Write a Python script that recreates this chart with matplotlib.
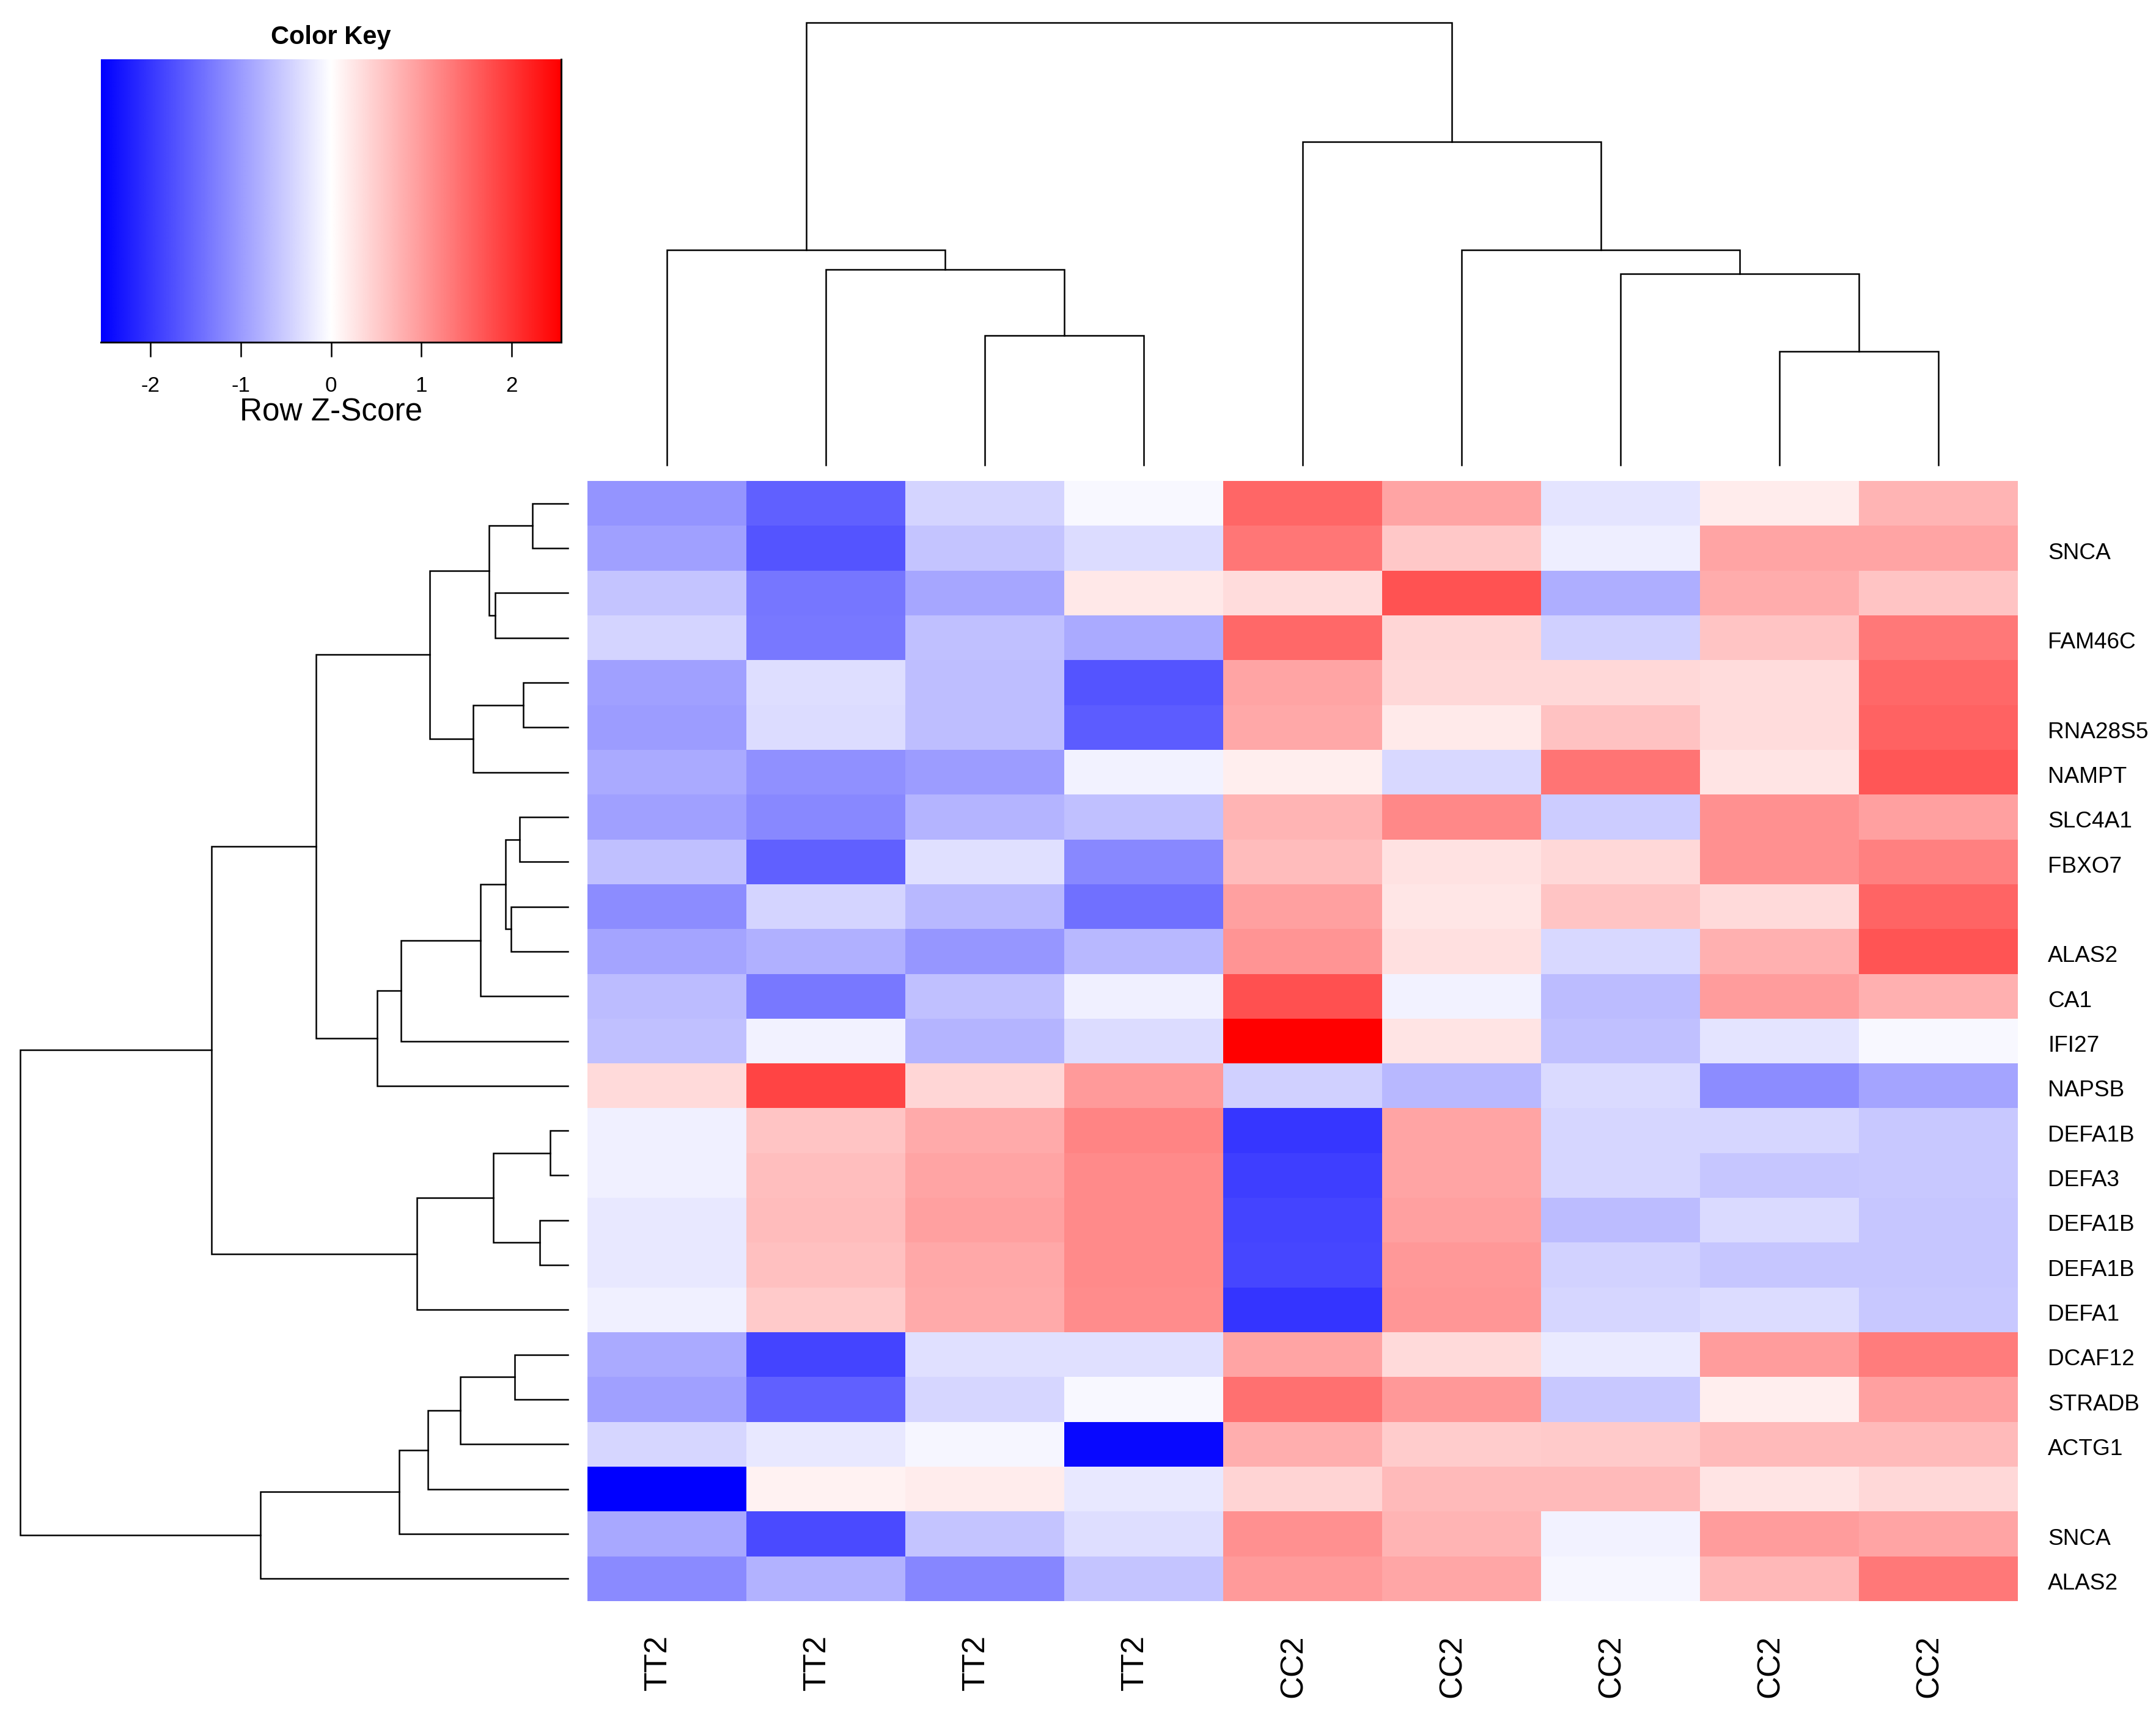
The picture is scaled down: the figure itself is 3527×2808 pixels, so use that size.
import numpy as np
import matplotlib
matplotlib.use("Agg")
import matplotlib.pyplot as plt
from matplotlib.colors import LinearSegmentedColormap

plt.rcParams["font.family"] = ["Liberation Sans", "DejaVu Sans"]
plt.rcParams["axes.unicode_minus"] = False


#%%
# 資料：row z-score（由上而下 25 列，9 個樣本）
col_labels = ["TT2", "TT2", "TT2", "TT2", "CC2", "CC2", "CC2", "CC2", "CC2"]

row_labels = ["", "SNCA", "", "FAM46C", "", "RNA28S5", "NAMPT", "SLC4A1",
              "FBXO7", "", "ALAS2", "CA1", "IFI27", "NAPSB", "DEFA1B",
              "DEFA3", "DEFA1B", "DEFA1B", "DEFA1", "DCAF12", "STRADB",
              "ACTG1", "", "SNCA", "ALAS2"]

z_scores = [
    [-1.07, -1.59, -0.43, -0.07, 1.53, 0.91, -0.27, 0.19, 0.75],
    [-0.95, -1.70, -0.59, -0.35, 1.36, 0.55, -0.17, 0.91, 0.91],
    [-0.59, -1.37, -0.89, 0.23, 0.35, 1.73, -0.81, 0.83, 0.59],
    [-0.43, -1.35, -0.63, -0.85, 1.51, 0.41, -0.47, 0.59, 1.35],
    [-0.95, -0.33, -0.65, -1.70, 0.91, 0.39, 0.39, 0.35, 1.51],
    [-0.99, -0.35, -0.65, -1.63, 0.87, 0.21, 0.61, 0.35, 1.57],
    [-0.85, -1.11, -0.99, -0.13, 0.17, -0.39, 1.39, 0.27, 1.69],
    [-0.95, -1.19, -0.75, -0.63, 0.75, 1.19, -0.51, 1.11, 0.95],
    [-0.63, -1.59, -0.31, -1.19, 0.67, 0.29, 0.39, 1.11, 1.27],
    [-1.15, -0.43, -0.71, -1.43, 0.95, 0.25, 0.59, 0.37, 1.55],
    [-0.91, -0.79, -1.05, -0.71, 1.07, 0.31, -0.39, 0.79, 1.70],
    [-0.67, -1.35, -0.63, -0.15, 1.75, -0.13, -0.67, 0.99, 0.79],
    [-0.63, -0.13, -0.75, -0.35, 2.55, 0.27, -0.63, -0.27, -0.07],
    [0.37, 1.86, 0.41, 1.01, -0.47, -0.71, -0.37, -1.15, -0.91],
    [-0.15, 0.59, 0.85, 1.23, -2.01, 0.91, -0.41, -0.41, -0.55],
    [-0.15, 0.65, 0.91, 1.17, -1.93, 0.91, -0.41, -0.57, -0.55],
    [-0.23, 0.67, 0.95, 1.17, -1.87, 0.95, -0.67, -0.37, -0.57],
    [-0.23, 0.63, 0.87, 1.17, -1.85, 1.03, -0.45, -0.57, -0.57],
    [-0.15, 0.53, 0.85, 1.15, -2.03, 1.05, -0.41, -0.35, -0.55],
    [-0.85, -1.86, -0.31, -0.31, 0.91, 0.37, -0.21, 0.99, 1.31],
    [-0.95, -1.59, -0.41, -0.07, 1.43, 1.03, -0.55, 0.17, 0.95],
    [-0.41, -0.23, -0.09, -2.47, 0.81, 0.51, 0.53, 0.69, 0.69],
    [-2.55, 0.13, 0.19, -0.23, 0.43, 0.69, 0.69, 0.27, 0.39],
    [-0.87, -1.81, -0.59, -0.33, 1.11, 0.75, -0.13, 0.99, 0.91],
    [-1.17, -0.77, -1.21, -0.59, 1.01, 0.89, -0.09, 0.71, 1.35],
]

# 樹狀圖合併 (左節點, 右節點, 高度)，節點編號同 scipy linkage
row_merges = [
    (0, 1, 95), (2, 3, 195), (25, 26, 210), (4, 5, 120), (28, 6, 253),
    (27, 29, 369), (7, 8, 129), (9, 10, 152), (31, 32, 166), (33, 11, 234),
    (34, 12, 446), (35, 13, 510), (30, 36, 672), (14, 15, 47), (16, 17, 75),
    (38, 39, 200), (40, 18, 404), (37, 41, 952), (19, 20, 142), (43, 21, 288),
    (44, 22, 374), (45, 23, 451), (46, 24, 822), (42, 47, 1463),
]

col_merges = [
    (2, 3, 415), (1, 9, 627), (0, 10, 690), (7, 8, 364),
    (6, 12, 614), (5, 13, 690), (4, 14, 1038), (11, 15, 1420),
]

z_lim = 2.55


#%%
def draw_dendrogram(ax, merges, n_leaves, orient="left"):
    pos = {i: i + 0.5 for i in range(n_leaves)}
    hgt = {i: 0.0 for i in range(n_leaves)}
    for k, (a, b, h) in enumerate(merges):
        pa, pb = pos[a], pos[b]
        if orient == "left":
            xs, ys = [hgt[a], h, h, hgt[b]], [pa, pa, pb, pb]
        else:
            xs, ys = [pa, pa, pb, pb], [hgt[a], h, h, hgt[b]]
        ax.plot(xs, ys, color="black", linewidth=0.6, clip_on=False,
                solid_joinstyle="miter")
        pos[n_leaves + k] = (pa + pb) / 2
        hgt[n_leaves + k] = h
    return hgt[n_leaves + len(merges) - 1]


#%%
W, H = 3527, 2808
fig = plt.figure(figsize=(W / 300, H / 300), dpi=300)

def px_axes(x0, y0, x1, y1):
    return fig.add_axes([x0 / W, 1 - y1 / H, (x1 - x0) / W, (y1 - y0) / H])

cmap = LinearSegmentedColormap.from_list("bwr_r", ["#0000FF", "#FFFFFF", "#FF0000"])

data = np.array(z_scores)
n_rows, n_cols = data.shape

# heatmap
ax = px_axes(961, 787, 3301, 2620)
ax.pcolormesh(np.arange(n_cols + 1), np.arange(n_rows + 1), data,
              cmap=cmap, vmin=-z_lim, vmax=z_lim)
ax.set_xlim(0, n_cols)
ax.set_ylim(n_rows, 0)
ax.set_xticks([])
ax.set_yticks([])
for s in ax.spines.values():
    s.set_visible(False)

for i, lab in enumerate(row_labels):
    ax.text(n_cols + 0.19, i + 0.61, lab, ha="left", va="center",
            fontsize=8.9, clip_on=False)
for j, lab in enumerate(col_labels):
    ax.text(j + 0.445, n_rows + 0.75, lab, ha="center", va="top",
            rotation=90, fontsize=12.3, clip_on=False)

# row dendrogram
ax_r = px_axes(33, 787, 929, 2620)
root = draw_dendrogram(ax_r, row_merges, n_rows, orient="left")
ax_r.set_xlim(root, 0)
ax_r.set_ylim(n_rows, 0)
ax_r.axis("off")

# column dendrogram
ax_c = px_axes(961, 37, 3301, 761)
root = draw_dendrogram(ax_c, col_merges, n_cols, orient="top")
ax_c.set_xlim(0, n_cols)
ax_c.set_ylim(0, root)
ax_c.axis("off")

# color key
ax_k = px_axes(165, 97, 918, 560)
grad = np.linspace(-z_lim, z_lim, 512).reshape(1, -1)
ax_k.imshow(grad, cmap=cmap, vmin=-z_lim, vmax=z_lim, aspect="auto",
            extent=(-z_lim, z_lim, 0, 1), interpolation="bilinear")
ax_k.set_xlim(-z_lim, z_lim)
ax_k.set_ylim(0, 1)
ax_k.set_yticks([])
ax_k.set_xticks([-2, -1, 0, 1, 2])
ax_k.tick_params(axis="x", length=5.8, width=0.6, pad=7.5, labelsize=8.4)
ax_k.set_xlabel("Row Z-Score", fontsize=12.3, labelpad=0.5)
ax_k.set_title("Color Key", fontsize=10, fontweight="bold", pad=6)
ax_k.spines["top"].set_visible(False)
ax_k.spines["left"].set_visible(False)
ax_k.spines["bottom"].set_linewidth(0.7)
ax_k.spines["right"].set_linewidth(0.7)

fig.savefig("out.png", dpi=300)
